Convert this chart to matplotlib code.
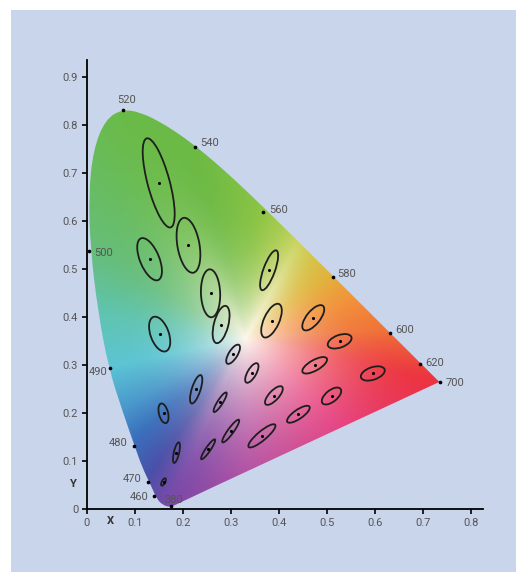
"""MacAdam ellipses on the CIE 1931 chromaticity diagram (ellipses shown 10x)."""

import matplotlib
matplotlib.use("Agg")
import matplotlib.pyplot as plt
import numpy as np
from matplotlib.colors import to_rgb
from matplotlib.patches import Ellipse, PathPatch, Rectangle
from matplotlib.path import Path

# spectral locus, CIE 1931 2 deg, 490-700 nm every 5 nm
LOCUS_X = [0.0454, 0.0235, 0.0082, 0.0039, 0.0139, 0.0389, 0.0743, 0.1142,
           0.1547, 0.1929, 0.2296, 0.2658, 0.3016, 0.3373, 0.3731, 0.4087, 0.4441, 0.4788,
           0.5125, 0.5448, 0.5752, 0.6029, 0.6270, 0.6482, 0.6658, 0.6801, 0.6915, 0.7006,
           0.7079, 0.7140, 0.7190, 0.7230, 0.7260, 0.7283, 0.7300, 0.7311, 0.7320, 0.7327,
           0.7334, 0.7340, 0.7344, 0.7346, 0.7347]
LOCUS_Y = [0.2950, 0.4127, 0.5384, 0.6548, 0.7502, 0.8120, 0.8338, 0.8262,
           0.8059, 0.7816, 0.7543, 0.7243, 0.6923, 0.6589, 0.6245, 0.5896, 0.5547, 0.5202,
           0.4866, 0.4544, 0.4242, 0.3965, 0.3725, 0.3514, 0.3340, 0.3197, 0.3083, 0.2993,
           0.2920, 0.2859, 0.2809, 0.2770, 0.2740, 0.2717, 0.2700, 0.2689, 0.2680, 0.2673,
           0.2666, 0.2660, 0.2656, 0.2654, 0.2653]
# rounded blue/violet corner of the coloured area, as drawn in the figure
CORNER_X = [0.195, 0.175, 0.158, 0.146, 0.135, 0.115, 0.1006, 0.076]
CORNER_Y = [0.0147, 0.004, 0.009, 0.022, 0.047, 0.089, 0.130, 0.200]

# labelled wavelengths
WAVE_LABELS = ["380", "460", "470", "480", "490", "500", "520", "540", "560", "580", "600", "620", "700"]
WAVE_X = [0.1756, 0.1396, 0.127, 0.099, 0.049, 0.0055, 0.076, 0.226, 0.368, 0.514, 0.632, 0.695, 0.737]
WAVE_Y = [0.007, 0.028, 0.057, 0.132, 0.295, 0.539, 0.831, 0.754, 0.620, 0.484, 0.367, 0.303, 0.265]

# MacAdam (1942) ellipses: centre, semi-axes (1e-3), angle (deg)
ELL_X = [0.160, 0.187, 0.253, 0.150, 0.131, 0.212, 0.258, 0.152, 0.280, 0.380, 0.160, 0.228, 0.305,
         0.385, 0.472, 0.527, 0.475, 0.510, 0.596, 0.344, 0.390, 0.441, 0.278, 0.300, 0.365]
ELL_Y = [0.057, 0.118, 0.125, 0.680, 0.521, 0.550, 0.450, 0.365, 0.385, 0.498, 0.200, 0.250, 0.323,
         0.393, 0.399, 0.350, 0.300, 0.236, 0.283, 0.284, 0.237, 0.198, 0.223, 0.163, 0.153]
ELL_A = [0.85, 2.2, 2.5, 9.6, 4.7, 5.8, 5.0, 3.8, 4.0, 4.4, 2.1, 3.1, 2.3,
         3.8, 3.2, 2.6, 2.9, 2.4, 2.6, 2.3, 2.5, 2.8, 2.4, 2.9, 3.6]
ELL_B = [0.35, 0.55, 0.5, 2.3, 2.0, 2.3, 2.0, 1.9, 1.5, 1.2, 0.95, 0.9, 0.9,
         1.6, 1.4, 1.3, 1.1, 1.2, 1.3, 0.9, 1.0, 0.95, 0.55, 0.6, 0.95]
ELL_ANGLE = [62.5, 77, 55.5, 105, 112.5, 100, 92, 110, 75.5, 70, 104, 72, 58,
             65.5, 51, 20, 29.5, 38.5, 19, 60, 47, 34.5, 57.5, 54, 40]

# edge colours of the illustration, by direction seen from the white point
HUE_ANGLES = [3.5, 20, 36.6, 50, 61, 72, 84, 105, 120, 150, 170, 192, 210, 222, 235, 245, 271, 317, 347.4]
HUE_COLORS = ["#f07438", "#f2923a", "#e2b23c", "#d6c44a", "#ccd460", "#aacc52", "#8cc444", "#6cba44",
              "#6abb4a", "#66be7c", "#60c4b0", "#5cc4d4", "#4a98cc", "#3a70bc", "#4a50a8", "#7a4aa8",
              "#b04aa0", "#e4357a", "#ec3340"]
# how quickly the colour leaves the white centre, by direction
FADE_ANGLES = [0, 40, 60, 80, 100, 160, 200, 250, 300]
FADE_POWER = [2.2, 2.0, 1.0, 2.0, 3.0, 3.0, 2.4, 2.0, 2.2]
WHITE_POINT = (0.33, 0.355)
WHITE = "#fdf7ec"

BG = "#c9d5eb"
TEXT = "#555555"


def smooth_path(xs, ys):
    pts = np.column_stack([xs, ys])
    mids = (pts + np.roll(pts, -1, axis=0)) / 2
    verts, codes = [mids[-1]], [Path.MOVETO]
    for i in range(len(pts)):
        verts += [pts[i], mids[i]]
        codes += [Path.CURVE3, Path.CURVE3]
    return Path(verts, codes)


def gradient_image(bx, by, nx=700, ny=800):
    xs = np.linspace(0.0, 0.75, nx)
    ys = np.linspace(0.0, 0.85, ny)
    xx, yy = np.meshgrid(xs, ys)
    wx, wy = WHITE_POINT
    ang = np.degrees(np.arctan2(yy - wy, xx - wx)) % 360
    rad = np.hypot(xx - wx, yy - wy)
    bang = np.degrees(np.arctan2(by - wy, bx - wx)) % 360
    brad = np.hypot(bx - wx, by - wy)
    order = np.argsort(bang)
    edge_r = np.interp(ang, bang[order], brad[order], period=360)
    t = np.clip(rad / edge_r, 0, 1)
    power = np.interp(ang, FADE_ANGLES, FADE_POWER, period=360)
    f = 1 - (1 - t) ** power
    cols = np.array([to_rgb(c) for c in HUE_COLORS])
    edge = np.stack([np.interp(ang, HUE_ANGLES, cols[:, k], period=360) for k in range(3)], axis=-1)
    white = np.array(to_rgb(WHITE))
    return white + (edge - white) * f[..., None]


fig = plt.figure(figsize=(5.16, 5.72), dpi=100)
fig.add_artist(Rectangle((11 / 516, 0), 1, (572 - 10) / 572, transform=fig.transFigure,
                         facecolor=BG, edgecolor="none", zorder=0))

px = 480.0  # pixels per unit
left, right, bottom, top = 86.7, 483.0, 509.3, 60.0
ax = fig.add_axes([left / 516, (572 - bottom) / 572, (right - left) / 516, (bottom - top) / 572])
ax.set_xlim(0, (right - left) / px)
ax.set_ylim(0, (bottom - top) / px)
ax.patch.set_visible(False)

bx = np.array(LOCUS_X + CORNER_X)
by = np.array(LOCUS_Y + CORNER_Y)
region = PathPatch(smooth_path(bx, by), facecolor="none", edgecolor="none")
ax.add_patch(region)
im = ax.imshow(gradient_image(bx, by), extent=(0, 0.75, 0, 0.85), origin="lower",
               interpolation="bilinear", aspect="auto", zorder=1)
im.set_clip_path(region)

for x, y, a, b, ang in zip(ELL_X, ELL_Y, ELL_A, ELL_B, ELL_ANGLE):
    ax.add_patch(Ellipse((x, y), 2 * a * 1e-2, 2 * b * 1e-2, angle=ang, facecolor="none",
                         edgecolor="#1e1e1e", linewidth=1.3, zorder=3))
ax.scatter(ELL_X, ELL_Y, s=5, color="black", zorder=4, linewidths=0)
ax.scatter(WAVE_X, WAVE_Y, s=7, color="black", zorder=4, linewidths=0, clip_on=False)

offsets = {"380": (-6, 6, "left"), "460": (-5, -1, "right"), "470": (-6, 3, "right"),
           "480": (-7, 3, "right"), "490": (-3, -4, "right"), "500": (5, -2, "left"),
           "520": (3, 10, "center"), "540": (5, 4, "left"), "560": (6, 2, "left"),
           "580": (4, 3, "left"), "600": (5, 3, "left"), "620": (5, 1, "left"), "700": (5, -1, "left")}
for lab, x, y in zip(WAVE_LABELS, WAVE_X, WAVE_Y):
    dx, dy, ha = offsets[lab]
    ax.annotate(lab, (x, y), xytext=(dx * 0.72, dy * 0.72), textcoords="offset points",
                ha=ha, va="center", fontsize=8, color=TEXT, family="Roboto", zorder=5,
                annotation_clip=False)

for side in ["top", "right"]:
    ax.spines[side].set_visible(False)
for side in ["left", "bottom"]:
    ax.spines[side].set_linewidth(1.3)
xt = [0, 0.1, 0.2, 0.3, 0.4, 0.5, 0.6, 0.7, 0.8]
yt = [0, 0.1, 0.2, 0.3, 0.4, 0.5, 0.6, 0.7, 0.8, 0.9]
ax.set_xticks(xt, ["0" if v == 0 else f"{v:.1f}" for v in xt])
ax.set_yticks(yt, ["0" if v == 0 else f"{v:.1f}" for v in yt])
ax.tick_params(direction="out", length=3.6, width=1.2, color="black", labelcolor=TEXT,
               labelsize=8, pad=2.5)
for lbl in ax.get_xticklabels() + ax.get_yticklabels():
    lbl.set_family("Roboto")

ax.text(-0.0285, 0.053, "Y", ha="center", va="center", fontsize=8, fontweight="bold",
        color="#333333", family="Roboto", clip_on=False)
ax.text(0.0485, -0.024, "X", ha="center", va="center", fontsize=8, fontweight="bold",
        color="#333333", family="Roboto", clip_on=False)

fig.savefig("out.png", dpi=100)
